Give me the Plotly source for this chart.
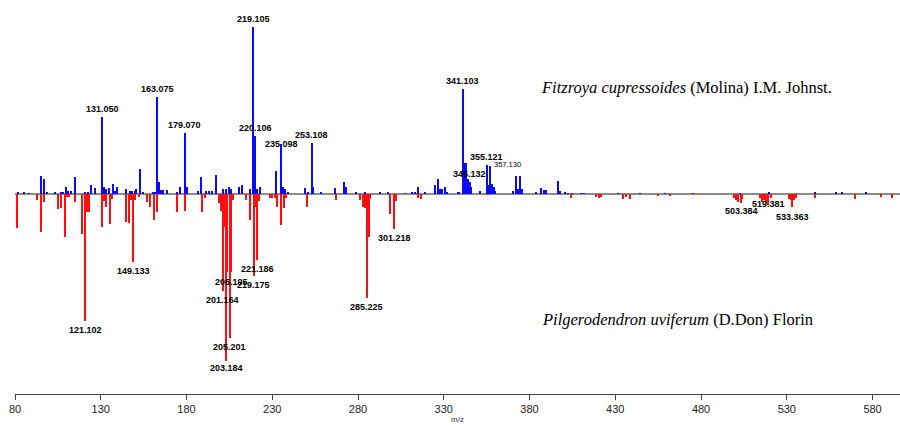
import plotly.graph_objects as go

# ---- Data: blue (upper) spectrum, Fitzroya cupressoides ----
blue_mz = [82.0, 85.2, 88.0, 95.5, 96.9, 99.0, 103.3, 107.2, 108.2, 109.7, 111.1, 113.0,
           115.0, 120.8, 122.7, 124.7, 126.6, 131.050, 131.9, 133.0, 135.0, 137.0, 138.3,
           139.6, 145.1, 147.0, 148.4, 150.0, 150.9, 152.7, 154.8, 160.6, 161.6, 163.075,
           164.078, 165.1, 166.5, 169.0, 174.3, 176.6, 179.070, 180.1, 186.9, 188.8, 191.2,
           193.3, 195.2, 197.2, 201.1, 203.0, 204.8, 206.3, 210.8, 212.7, 217.0, 219.105,
           220.106, 221.1, 223.0, 232.5, 235.098, 236.4, 237.4, 239.3, 249.1, 251.0,
           253.108, 254.1, 258.8, 266.5, 272.0, 273.0, 279.2, 284.0, 292.8, 297.6, 307.3,
           311.3, 313.2, 315.1, 319.0, 324.8, 326.8, 328.0, 329.0, 330.9, 332.0, 338.3,
           339.0, 341.103, 342.1, 343.1, 344.1, 345.132, 346.1, 351.1, 355.121, 356.1,
           357.130, 358.1, 359.1, 360.1, 370.5, 372.5, 373.5, 374.8, 375.8, 384.0, 387.0,
           388.5, 389.5, 396.7, 397.7, 401.0, 402.6, 405.0, 410.0, 412.0, 431.5, 444.3,
           459.0, 475.4, 503.0, 519.5, 546.4, 559.0, 562.0, 576.5]
blue_int = [0.8, 1.5, 0.6, 10.6, 9.1, 1.5, 1.5, 1.5, 1.5, 4.0, 2.0, 2.0,
            10.0, 1.0, 1.0, 5.5, 3.5, 46.3, 4.0, 3.0, 3.5, 6.0, 2.0,
            4.0, 3.0, 2.0, 2.0, 2.0, 3.0, 15.0, 1.0, 1.5, 1.5, 58.1,
            7.0, 2.5, 2.5, 2.5, 1.0, 4.0, 36.3, 4.0, 2.0, 10.0, 2.0,
            2.0, 2.0, 11.5, 3.0, 3.0, 4.0, 3.0, 4.0, 5.5, 3.0, 100.0,
            34.7, 3.0, 4.0, 13.6, 29.8, 4.0, 3.0, 1.0, 3.5, 1.5,
            30.3, 4.0, 1.0, 3.5, 7.0, 4.0, 1.0, 1.0, 0.8, 0.8, 0.6,
            1.5, 1.5, 4.4, 1.0, 5.2, 8.8, 3.0, 3.0, 4.4, 1.0, 1.4,
            1.4, 62.7, 18.4, 18.4, 9.0, 7.0, 4.4, 2.0, 17.4, 5.4,
            17.0, 6.0, 4.0, 2.0, 2.0, 11.0, 3.0, 11.0, 3.0, 0.8, 3.8,
            2.5, 2.5, 8.0, 2.0, 0.8, 0.5, 0.5, 0.5, 0.5, 0.5, 0.5,
            0.6, 0.5, 0.6, 0.8, 1.2, 0.8, 0.8, 0.8]
blue_labels = [131.050, 163.075, 179.070, 219.105, 220.106, 235.098, 253.108,
               341.103, 345.132, 355.121, 357.130]

# ---- Data: red (lower) spectrum, Pilgerodendron uviferum ----
red_mz = [81.0, 93.0, 95.2, 97.1, 105.3, 106.8, 109.0, 110.5, 111.5, 115.0, 119.1,
          121.102, 122.1, 123.1, 131.1, 132.2, 133.1, 135.4, 136.5, 145.1, 146.5, 147.5,
          149.133, 150.2, 152.6, 156.8, 159.1, 161.2, 163.0, 174.8, 179.1, 189.2, 191.0,
          198.9, 200.1, 201.164, 202.2, 203.184, 204.0, 205.201, 206.195, 207.1, 215.0,
          217.4, 219.175, 220.2, 221.186, 222.2, 228.7, 230.0, 231.6, 232.9, 235.1, 237.0,
          238.0, 250.6, 267.1, 281.0, 283.0, 284.0, 285.225, 286.4, 287.2, 299.0, 301.218,
          302.2, 315.1, 317.1, 356.0, 404.5, 419.0, 420.5, 422.0, 434.6, 436.5, 438.5,
          455.0, 462.0, 499.3, 500.5, 501.7, 503.384, 504.2, 514.3, 515.6, 516.8, 518.2,
          519.381, 520.8, 531.2, 532.4, 533.363, 534.4, 535.4, 546.4, 569.6, 585.2, 591.6]
red_int = [20.6, 3.6, 23.0, 5.0, 9.0, 8.4, 25.5, 2.0, 2.0, 4.5, 24.0,
           76.0, 10.6, 10.6, 19.6, 4.0, 8.0, 18.0, 3.0, 17.0, 17.5, 3.5,
           41.0, 3.5, 1.6, 4.5, 7.6, 15.6, 11.0, 10.6, 10.0, 10.6, 2.6,
           5.6, 10.0, 58.0, 20.0, 100.0, 46.5, 86.0, 46.5, 3.5, 3.6,
           15.6, 49.0, 8.0, 39.5, 4.0, 2.6, 2.6, 2.6, 7.6, 18.6, 8.4,
           2.6, 7.6, 3.6, 3.6, 7.6, 8.4, 62.5, 25.5, 3.0, 12.0, 21.0,
           4.0, 2.6, 3.2, 0.5, 2.4, 1.5, 2.4, 1.5, 3.0, 2.0, 3.0,
           0.8, 0.8, 2.6, 3.6, 4.6, 5.6, 3.0, 2.2, 4.6, 3.6, 5.6,
           6.6, 2.2, 3.0, 3.6, 7.6, 3.6, 2.2, 2.2, 3.0, 1.5, 2.4]
red_labels = [121.102, 149.133, 201.164, 203.184, 205.201, 206.195, 219.175,
              221.186, 285.225, 301.218, 503.384, 519.381, 533.363]

tick_vals = [80, 130, 180, 230, 280, 330, 380, 430, 480, 530, 580]
species_top = "<i>Fitzroya cupressoides</i> (Molina) I.M. Johnst."
species_bottom = "<i>Pilgerodendron uviferum</i> (D.Don) Florin"
x_title = "m/z"

# ---- Figure ----
fig = go.Figure()
fig.add_trace(go.Bar(x=blue_mz, y=blue_int, width=0.8,
                     marker=dict(color="#0a0aff", line=dict(width=0)), name="Fitzroya"))
fig.add_trace(go.Bar(x=red_mz, y=[-v for v in red_int], width=0.8,
                     marker=dict(color="#ff1010", line=dict(width=0)), name="Pilgerodendron"))

lab_font = dict(family="Liberation Sans, Arial, sans-serif", size=9, color="black", weight="bold")
small_font = dict(family="Liberation Sans, Arial, sans-serif", size=7.5, color="black")

up_shift = {235.098: 0, 357.130: 1}
up_xshift = {357.130: 17}
for m in blue_labels:
    v = blue_int[blue_mz.index(m)]
    fig.add_annotation(x=m, y=v, text=f"{m:.3f}", showarrow=False,
                       xanchor="center", yanchor="middle",
                       yshift=up_shift.get(m, 8), xshift=up_xshift.get(m, 0),
                       font=small_font if m == 357.130 else lab_font)

down_shift = {203.184: -7, 206.195: -10, 519.381: 1, 533.363: -10, 503.384: -8}
for m in red_labels:
    v = red_int[red_mz.index(m)]
    fig.add_annotation(x=m, y=-v, text=f"{m:.3f}", showarrow=False,
                       xanchor="center", yanchor="middle",
                       yshift=down_shift.get(m, -9), font=lab_font)

serif = dict(family="Liberation Serif, Times New Roman, serif", size=16.5, color="black")
fig.add_annotation(xref="paper", yref="paper", x=0.7588, y=0.779, text=species_top,
                   showarrow=False, xanchor="center", yanchor="middle", font=serif)
fig.add_annotation(xref="paper", yref="paper", x=0.749, y=0.188, text=species_bottom,
                   showarrow=False, xanchor="center", yanchor="middle", font=serif)
fig.add_annotation(xref="paper", yref="paper", x=0.5, y=0, text=x_title, showarrow=False,
                   xanchor="center", yanchor="top", yshift=-19,
                   font=dict(family="Liberation Sans Narrow, Liberation Sans, Arial", size=8, color="#333"))

fig.update_layout(
    width=900, height=425,
    margin=dict(l=15, r=0, t=0, b=31),
    paper_bgcolor="white", plot_bgcolor="white",
    barmode="overlay", bargap=0, showlegend=False,
    xaxis=dict(range=[80, 596], tickvals=tick_vals, ticktext=[str(t) for t in tick_vals],
               showline=True, linecolor="#444", linewidth=1, ticks="outside", ticklen=5,
               tickcolor="#444", tickwidth=1, showgrid=False, zeroline=False,
               tickfont=dict(family="Liberation Sans Narrow, Liberation Sans, Arial", size=11, color="#222")),
    yaxis=dict(range=[-119.76, 116.17], showticklabels=False, showgrid=False, showline=False,
               ticks="", zeroline=True, zerolinecolor="#8c8c8c", zerolinewidth=1.5),
)

fig.write_html("out.html", config={"displayModeBar": False},
               post_script="document.body.style.margin='0';document.body.style.overflow='hidden';")
